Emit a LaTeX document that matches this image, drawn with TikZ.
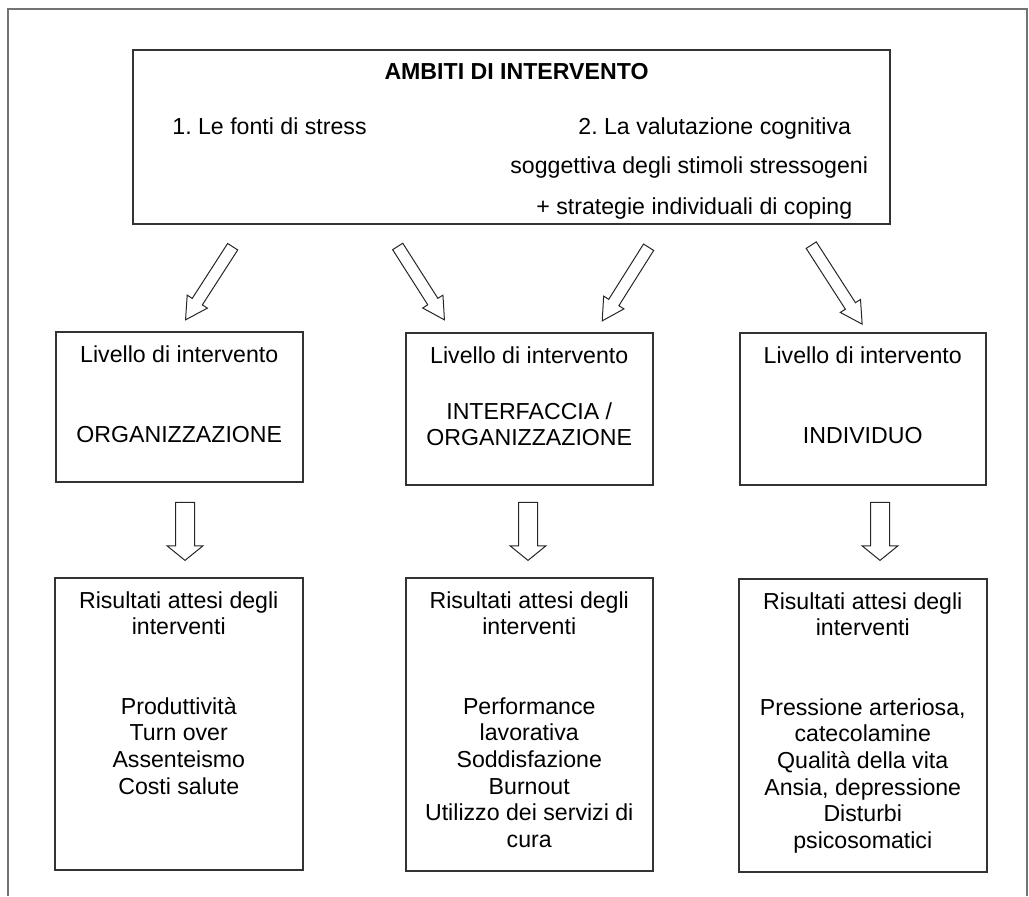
\documentclass[tikz,border=0pt]{standalone}
\usepackage{fontspec}
\setmainfont{Liberation Sans}
\usetikzlibrary{shapes.arrows}
\usetikzlibrary{positioning}
\newcommand{\diagfont}{\fontsize{11.57}{13.3}\selectfont\frenchspacing}
\tikzstyle{page_frame} = [
    draw=black!55, 
    line width=0.8pt
]
\tikzstyle{plain_box} = [
    rectangle, 
    draw=black!80, 
    line width=0.75pt, 
    anchor=north west, 
    inner sep=0pt
]
\tikzstyle{box_text} = [
    align=center, 
    inner sep=0pt, 
    font=\diagfont
]
\tikzstyle{line_text} = [
    anchor=base west, 
    inner sep=0pt, 
    font=\diagfont
]
\tikzstyle{block_arrow} = [
    single arrow, 
    draw=black!85, 
    line width=0.5pt, 
    anchor=tip, 
    inner xsep=0pt, 
    inner ysep=2.75pt, % half the shaft
    minimum height=43.5pt, 
    single arrow head extend=3pt, 
    single arrow tip angle=58
]
\tikzstyle{down_arrow} = [
    single arrow, 
    draw=black!85, 
    line width=0.5pt, 
    anchor=tip, 
    rotate=270, 
    inner xsep=0pt, 
    inner ysep=4.5pt, 
    minimum height=29pt, 
    single arrow head extend=4.25pt, 
    single arrow tip angle=102
]
\begin{document}
\begin{tikzpicture}[x=0.5pt, y=-0.5pt]
\useasboundingbox (0,0) rectangle (1029,896);
\draw [page_frame] (8,896) -- (8,9) -- (1027,9) -- (1027,896);

% top box
\node [plain_box, minimum width=378.5pt, minimum height=87pt] (ambiti) at (132,49) {};
\node [box_text, font=\diagfont\bfseries, anchor=base] (titolo) at (516.5,79) {AMBITI DI INTERVENTO};
\node [line_text] (fonti) at (172,134) {1. Le fonti di stress};
\node [line_text] (valutazione) at (578,134) {2. La valutazione cognitiva};
\node [line_text] (soggettiva) at (510,173) {soggettiva degli stimoli stressogeni};
\node [line_text] (coping) at (536,214) {+ strategie individuali di coping};

% levels
\node [plain_box, minimum width=123.5pt, minimum height=75pt] (lv_org) at (55,331) {};
\node [plain_box, minimum width=123.5pt, minimum height=76pt] (lv_int) at (405,332) {};
\node [plain_box, minimum width=123pt, minimum height=76pt] (lv_ind) at (739,332) {};
\node [box_text, below=7pt of lv_org.north] {Livello di intervento\\[26.7pt]ORGANIZZAZIONE};
\node [box_text, below=7pt of lv_int.north] {Livello di intervento\\[14.7pt]INTERFACCIA /\\ORGANIZZAZIONE};
\node [box_text, below=7pt of lv_ind.north] {Livello di intervento\\[26.7pt]INDIVIDUO};

% expected results
\node [plain_box, minimum width=124pt, minimum height=146pt] (res_org) at (54,577) {};
\node [plain_box, minimum width=123.5pt, minimum height=146.5pt] (res_int) at (405,577) {};
\node [plain_box, minimum width=124pt, minimum height=146.5pt] (res_ind) at (738,578) {};
\node [box_text, below=7pt of res_org.north] {Risultati attesi degli\\interventi\\[26.5pt]Produttività\\Turn over\\Assenteismo\\Costi salute};
\node [box_text, below=7pt of res_int.north] {Risultati attesi degli\\interventi\\[26.5pt]Performance\\lavorativa\\Soddisfazione\\Burnout\\Utilizzo dei servizi di\\cura};
\node [box_text, below=7pt of res_ind.north] {Risultati attesi degli\\interventi\\[26.5pt]Pressione arteriosa,\\catecolamine\\Qualità della vita\\Ansia, depressione\\Disturbi\\psicosomatici};

% arrows
\node [block_arrow, rotate=237.2] (freccia_a) at (185,320.7) {};
\node [block_arrow, rotate=302.5] (freccia_b) at (445,320.7) {};
\node [block_arrow, rotate=237.8] (freccia_c) at (601.7,321.7) {};
\node [block_arrow, rotate=302.8, minimum height=47pt] (freccia_d) at (862.7,325) {};
\node [down_arrow] (giu_org) at (185,561) {};
\node [down_arrow] (giu_int) at (528,561) {};
\node [down_arrow] (giu_ind) at (880,561) {};
\end{tikzpicture}
\end{document}
